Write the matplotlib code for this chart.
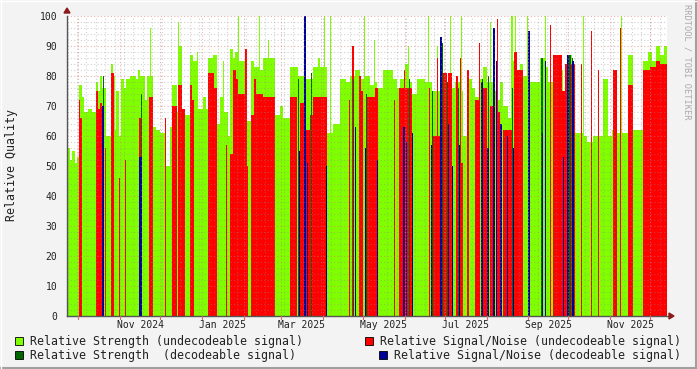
import numpy as np
import matplotlib
matplotlib.use("Agg")
import matplotlib.pyplot as plt
import matplotlib.dates as mdates
from matplotlib.patches import Rectangle, Polygon
import datetime as dt

# ---------------- data ----------------
# sample grid: one sample per consolidated step
start_time = dt.datetime(2024, 9, 22, 12, 0)
step_days = 365.0 / 490.0
n_samples = 600

# (start sample index, value) runs; 0 = no data
strength_undec = [(0,56),(3,52),(5,55),(8,51),(10,53),(12,77),(15,73),(17,68),(21,69),(25,68),(29,78),(31,75),(33,80),(35,76),(39,60),(44,84),(46,80),(48,62),(49,75),(52,60),(54,79),(57,76),(59,79),(63,80),(69,79),(71,82),(73,80),(78,72),(80,80),(83,96),(84,80),(86,63),(89,62),(93,61),(99,50),(103,63),(105,77),(110,68),(111,98),(112,90),(115,65),(118,67),(123,87),(126,85),(130,88),(131,69),(136,73),(139,69),(141,86),(146,87),(150,64),(153,73),(156,85),(157,68),(161,60),(163,89),(166,86),(168,88),(171,100),(172,85),(178,89),(180,65),(184,85),(187,83),(192,100),(193,82),(196,86),(201,92),(202,86),(208,67),(213,70),(216,66),(223,83),(231,80),(239,79),(246,83),(251,86),(253,83),(257,100),(258,83),(260,61),(263,100),(264,61),(266,64),(273,79),(279,78),(283,80),(288,82),(293,79),(297,100),(298,80),(303,77),(307,92),(308,78),(310,76),(316,82),(326,79),(330,76),(333,79),(338,84),(341,90),(342,78),(345,74),(350,79),(358,78),(361,100),(362,78),(365,75),(370,90),(371,75),(373,80),(378,78),(383,100),(384,76),(388,78),(393,75),(394,100),(395,75),(396,60),(401,79),(405,76),(408,73),(413,79),(416,83),(420,78),(423,98),(424,78),(428,75),(430,72),(433,78),(436,70),(441,66),(444,100),(446,85),(448,100),(449,80),(453,84),(456,80),(460,100),(461,70),(463,78),(473,86),(478,100),(479,83),(481,78),(488,75),(493,82),(496,75),(500,87),(505,84),(508,61),(516,100),(517,60),(520,58),(526,60),(536,79),(541,60),(545,62),(550,61),(554,100),(555,61),(561,87),(566,62),(576,85),(581,88),(585,85),(589,90),(593,87),(597,90)]

snr_undec = [(0,0),(12,72),(13,66),(15,0),(29,75),(31,69),(33,71),(35,0),(38,56),(39,0),(44,81),(47,0),(52,46),(53,0),(58,52),(59,0),(72,66),(75,0),(82,73),(86,0),(98,66),(99,0),(105,70),(110,0),(111,77),(115,69),(118,0),(123,77),(125,72),(127,0),(141,81),(147,76),(150,0),(159,57),(160,0),(163,54),(166,82),(169,79),(171,74),(178,89),(180,50),(181,0),(184,67),(187,79),(189,74),(196,73),(208,0),(223,73),(230,0),(233,71),(237,0),(239,62),(243,67),(246,73),(260,0),(282,72),(283,0),(285,90),(287,0),(292,80),(294,75),(296,0),(300,73),(308,76),(311,0),(327,72),(328,0),(332,76),(337,82),(338,76),(345,0),(362,76),(363,0),(366,60),(370,86),(371,60),(373,0),(376,81),(380,0),(381,81),(385,0),(389,80),(391,0),(393,86),(394,51),(396,0),(400,82),(402,0),(408,72),(412,91),(413,0),(416,76),(420,0),(423,70),(426,0),(430,99),(431,68),(433,0),(436,62),(445,0),(447,88),(450,82),(456,0),(483,97),(484,0),(486,87),(495,75),(498,84),(508,0),(514,84),(515,0),(524,95),(525,0),(531,82),(532,0),(546,82),(550,0),(553,96),(554,0),(561,77),(566,0),(576,82),(583,83),(589,85),(593,84)]

# (start sample index, number of samples, value)
strength_dec = [(36,1,80),(74,1,74),(231,1,79),(244,1,81),(286,1,79),(299,1,74),(342,1,79),(365,1,75),(374,2,91),(380,1,78),(391,1,76),(415,1,79),(421,1,80),(427,1,83),(445,1,76),(474,2,86),(502,2,87),(505,1,86)]

snr_dec = [(35,2,70),(72,3,53),(232,1,55),(237,2,100),(240,1,51),(259,1,50),(288,1,63),(298,1,56),(310,1,52),(336,2,63),(339,1,58),(345,1,61),(364,1,57),(373,2,93),(381,1,64),(385,1,50),(392,1,57),(414,2,78),(420,2,56),(426,2,96),(429,1,85),(433,2,64),(440,1,60),(446,1,56),(461,2,95),(475,1,61),(478,1,85),(496,1,53),(500,2,87),(505,2,85)]

month_labels = ["Nov 2024", "Jan 2025", "Mar 2025", "May 2025", "Jul 2025", "Sep 2025", "Nov 2025"]
label_dates = [dt.datetime(2024,11,16), dt.datetime(2025,1,16), dt.datetime(2025,3,16), dt.datetime(2025,5,16), dt.datetime(2025,7,16), dt.datetime(2025,9,16), dt.datetime(2025,11,16)]

legend_labels = ["Relative Strength (undecodeable signal)", "Relative Signal/Noise (undecodeable signal)",
                 "Relative Strength  (decodeable signal)", "Relative Signal/Noise (decodeable signal)"]

C_G = "#80FF00"
C_R = "#FF0000"
C_DG = "#006600"
C_B = "#000099"

# ---------------- figure ----------------
W, H = 697, 369
fig = plt.figure(figsize=(W/100, H/100), dpi=100)
fig.patch.set_facecolor("#F3F3F3")
L, R_, T, B_ = 67, 667, 16, 316
ax = fig.add_axes([L/W, 1 - B_/H, (R_-L)/W, (B_-T)/H])
ax.set_facecolor("white")

t0 = mdates.date2num(start_time)
edges = t0 + np.arange(n_samples + 1) * step_days

def runs_to_array(runs):
    vals = np.zeros(n_samples)
    for k, (s, v) in enumerate(runs):
        e = runs[k+1][0] if k + 1 < len(runs) else n_samples
        vals[s:e] = v
    return vals

def spans_to_array(spans):
    vals = np.zeros(n_samples)
    for (s, n, v) in spans:
        vals[s:s+n] = v
    return vals

for arr, c, z in [(runs_to_array(strength_undec), C_G, 2),
                  (runs_to_array(snr_undec), C_R, 3),
                  (spans_to_array(strength_dec), C_DG, 4),
                  (spans_to_array(snr_dec), C_B, 5)]:
    ax.stairs(arr, edges, fill=True, baseline=0, color=c, lw=0, antialiased=False, zorder=z)

x0, x1 = edges[0], edges[-1]
ax.set_xlim(x0, x1)
ax.set_ylim(0, 100)

# grid (drawn over the data like rrdtool)
minor_c = (0.55, 0.55, 0.55, 0.4)
major_c = (0.85, 0.45, 0.45, 0.55)
for yv in range(2, 101, 2):
    ax.axhline(yv, color=major_c if yv % 10 == 0 else minor_c, lw=0.8, ls=(0, (1, 2)), zorder=6)

d = dt.datetime(2024, 9, 23)
while mdates.date2num(d) < x1:
    ax.axvline(mdates.date2num(d), color=minor_c, lw=0.8, ls=(0, (1, 2)), zorder=6)
    d += dt.timedelta(days=7)
months = []
y_, m_ = 2024, 10
while True:
    md = dt.datetime(y_, m_, 1)
    if mdates.date2num(md) > x1:
        break
    months.append(md)
    m_ += 1
    if m_ > 12:
        m_ = 1; y_ += 1
for md in months:
    ax.axvline(mdates.date2num(md), color=major_c, lw=0.8, ls=(0, (1, 2)), zorder=6)

for s in ax.spines.values():
    s.set_visible(False)
ax.plot([x0, x0], [0, 100], color="#555555", lw=1, zorder=8, clip_on=False)
ax.plot([x0, x1 + 2], [0, 0], color="#555555", lw=1, zorder=8, clip_on=False)

# ticks
ax.set_yticks(range(0, 101, 10))
ax.set_yticklabels([str(v) for v in range(0, 101, 10)], family="DejaVu Sans Mono", fontsize=7, color="#222222")
ax.tick_params(axis="y", length=0, pad=7)
ax.set_xticks([mdates.date2num(v) for v in label_dates])
ax.set_xticklabels(month_labels, family="DejaVu Sans Mono", fontsize=7, color="#222222")
ax.tick_params(axis="x", length=0, pad=3)
for md in months:
    ax.plot([mdates.date2num(md)] * 2, [-1.0, 0], color="#DD6666", lw=0.8, clip_on=False, zorder=8)

fig.text(12/W, 1-165/H, "Relative Quality", rotation=90, family="DejaVu Sans Mono", fontsize=8.4,
         color="#222222", ha="center", va="center")

# arrows
fig.patches.append(Polygon([[(L-3)/W, 1-13/H], [(L+3)/W, 1-13/H], [L/W, 1-8/H]], closed=True,
                           transform=fig.transFigure, color="#8B1A1A"))
fig.patches.append(Polygon([[(R_+2)/W, 1-(B_-3)/H], [(R_+2)/W, 1-(B_+3)/H], [(R_+7)/W, 1-B_/H]], closed=True,
                           transform=fig.transFigure, color="#8B1A1A"))

# watermark
fig.text(687/W, 1-4/H, "RRDTOOL / TOBI OETIKER", rotation=270, family="DejaVu Sans Mono",
         fontsize=6.2, color="#AAAAAA", ha="center", va="top")

# legend
colors = [C_G, C_R, C_DG, C_B]
pos = [(15, 341), (365, 341), (15, 355), (379, 355)]
for (px, py), c, lab in zip(pos, colors, legend_labels):
    fig.patches.append(Rectangle((px/W, 1-(py+4)/H), 8/W, 8/H, transform=fig.transFigure,
                                 facecolor=c, edgecolor="#000000", lw=0.6))
    fig.text((px+15)/W, 1-py/H, lab, family="DejaVu Sans Mono", fontsize=8.35, color="#222222",
             ha="left", va="center")

# frame
fig.add_artist(plt.Line2D([0, 1], [1.5/H, 1.5/H], transform=fig.transFigure, color="#A0A0A0", lw=1.5))
fig.add_artist(plt.Line2D([1-1.5/W, 1-1.5/W], [0, 1], transform=fig.transFigure, color="#A0A0A0", lw=1.5))
fig.add_artist(plt.Line2D([0, 1], [1-0.5/H, 1-0.5/H], transform=fig.transFigure, color="#FFFFFF", lw=1))
fig.add_artist(plt.Line2D([0.5/W, 0.5/W], [0, 1], transform=fig.transFigure, color="#FFFFFF", lw=1))

fig.savefig("out.png", dpi=100, facecolor=fig.get_facecolor())
